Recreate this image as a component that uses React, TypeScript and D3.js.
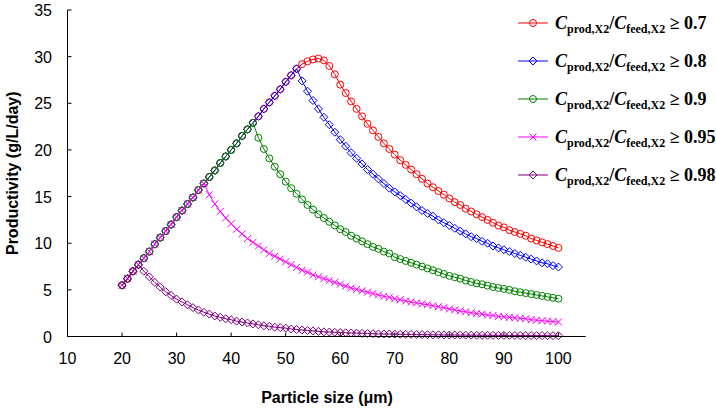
import React from "react";
import * as d3 from "d3";

// x values: particle size (µm), one point per µm
const particleSizes: number[] = d3.range(20, 101);

// shared rising branch, x = 20..52
const rise = [5.5, 6.2, 7.0, 7.7, 8.4, 9.1, 9.9, 10.6, 11.3, 12.0, 12.8, 13.5, 14.2, 14.9, 15.7, 16.4, 17.1, 17.8, 18.6, 19.3, 20.0, 20.7, 21.5, 22.2, 22.9, 23.6, 24.4, 25.1, 25.8, 26.5, 27.3, 28.0, 28.7];

// red, x = 53..100
const tail07 = [29.2, 29.5, 29.7, 29.8, 29.6, 29.0, 28.1, 27.0, 26.1, 25.2, 24.4, 23.6, 22.8, 22.1, 21.4, 20.7, 20.1, 19.5, 18.9, 18.4, 17.9, 17.4, 16.9, 16.4, 16.0, 15.6, 15.2, 14.8, 14.4, 14.1, 13.7, 13.4, 13.1, 12.8, 12.5, 12.2, 11.9, 11.7, 11.4, 11.2, 11.0, 10.8, 10.5, 10.3, 10.1, 9.9, 9.7, 9.5];
// blue, x = 53..100
const tail08 = [27.4, 26.3, 25.3, 24.4, 23.5, 22.7, 21.9, 21.1, 20.4, 19.7, 19.1, 18.5, 17.9, 17.4, 16.9, 16.4, 15.9, 15.5, 15.1, 14.7, 14.3, 13.9, 13.5, 13.2, 12.9, 12.5, 12.2, 11.9, 11.6, 11.3, 11.0, 10.7, 10.5, 10.2, 10.0, 9.7, 9.5, 9.3, 9.1, 8.9, 8.7, 8.5, 8.3, 8.1, 7.9, 7.8, 7.6, 7.45];
// green, x = 45..100
const tail09 = [21.3, 20.1, 19.1, 18.2, 17.4, 16.6, 15.9, 15.3, 14.7, 14.1, 13.6, 13.1, 12.7, 12.3, 11.9, 11.5, 11.2, 10.8, 10.5, 10.2, 9.9, 9.6, 9.4, 9.1, 8.9, 8.5, 8.3, 8.1, 7.9, 7.7, 7.5, 7.3, 7.1, 6.9, 6.7, 6.5, 6.35, 6.2, 6.0, 5.85, 5.7, 5.6, 5.45, 5.3, 5.2, 5.1, 5.0, 4.85, 4.75, 4.65, 4.55, 4.45, 4.35, 4.25, 4.15, 4.05];
// magenta, x = 36..100
const tail095 = [15.2, 14.2, 13.4, 12.7, 12.1, 11.5, 11.0, 10.5, 10.1, 9.7, 9.3, 8.9, 8.6, 8.3, 8.0, 7.7, 7.4, 7.1, 6.9, 6.6, 6.4, 6.2, 6.0, 5.8, 5.6, 5.4, 5.2, 5.05, 4.9, 4.75, 4.6, 4.45, 4.3, 4.2, 4.05, 3.95, 3.8, 3.7, 3.6, 3.5, 3.4, 3.3, 3.2, 3.1, 2.95, 2.85, 2.75, 2.65, 2.55, 2.45, 2.4, 2.3, 2.25, 2.15, 2.1, 2.05, 2.0, 1.95, 1.9, 1.8, 1.75, 1.7, 1.65, 1.6, 1.55];
// purple, x = 24..100
const tail098 = [7.0, 6.4, 5.8, 5.3, 4.8, 4.4, 4.0, 3.7, 3.4, 3.1, 2.85, 2.6, 2.4, 2.2, 2.05, 1.9, 1.8, 1.65, 1.55, 1.45, 1.35, 1.25, 1.15, 1.1, 1.0, 0.95, 0.9, 0.8, 0.75, 0.7, 0.65, 0.6, 0.55, 0.5, 0.48, 0.45, 0.42, 0.4, 0.38, 0.36, 0.34, 0.32, 0.3, 0.28, 0.27, 0.26, 0.25, 0.24, 0.23, 0.22, 0.21, 0.2, 0.19, 0.18, 0.18, 0.17, 0.16, 0.16, 0.15, 0.15, 0.14, 0.14, 0.13, 0.13, 0.12, 0.12, 0.12, 0.11, 0.11, 0.11, 0.1, 0.1, 0.1, 0.1, 0.09, 0.09, 0.09];

const values07 = rise.concat(tail07);
const values08 = rise.concat(tail08);
const values09 = rise.slice(0, 25).concat(tail09);
const values095 = rise.slice(0, 16).concat(tail095);
const values098 = rise.slice(0, 4).concat(tail098);

const seriesLabels = ["0.7", "0.8", "0.9", "0.95", "0.98"];
const seriesValues = [values07, values08, values09, values095, values098];
const seriesColors = ["#ff0000", "#0000ff", "#008000", "#ff00ff", "#800080"];
const seriesMarkers = ["circle", "diamond", "circle", "cross", "diamond"];

const xTicks = [10, 20, 30, 40, 50, 60, 70, 80, 90, 100];
const yTicks = [0, 5, 10, 15, 20, 25, 30, 35];

const W = 716;
const H = 410;
const plot = { left: 67.5, right: 585.7, top: 10, bottom: 336.5 };

function Marker({ type, x, y, color }: { type: string; x: number; y: number; color: string }) {
  if (type === "circle") {
    return <circle cx={x} cy={y} r={3.5} fill="none" stroke={color} strokeWidth={1} />;
  }
  if (type === "diamond") {
    const s = 4;
    return (
      <path
        d={`M${x},${y - s}L${x + s},${y}L${x},${y + s}L${x - s},${y}Z`}
        fill="none"
        stroke={color}
        strokeWidth={1}
      />
    );
  }
  const s = 3.5;
  return (
    <path
      d={`M${x - s},${y - s}L${x + s},${y + s}M${x - s},${y + s}L${x + s},${y - s}`}
      stroke={color}
      strokeWidth={1}
    />
  );
}

export default function App() {
  const x = d3.scaleLinear().domain([10, 105]).range([plot.left, plot.right]);
  const y = d3.scaleLinear().domain([0, 35]).range([plot.bottom, plot.top]);
  const line = d3
    .line<number>()
    .x((_, i) => x(particleSizes[i]))
    .y((d) => y(d));

  const sans = "'Liberation Sans', Arial, sans-serif";
  const serif = "'Liberation Serif', 'Times New Roman', serif";
  const legendY = [23, 61, 99, 137, 175];

  return (
    <svg width={W} height={H} style={{ position: "absolute", left: 0, top: 0, background: "#fff" }}>
      <rect x={0} y={0} width={W} height={H} fill="#fff" />
      {/* series */}
      {seriesValues.map((vals, si) => (
        <g key={si}>
          <path d={line(vals) || ""} fill="none" stroke={seriesColors[si]} strokeWidth={1} />
          {vals.map((v, i) => (
            <Marker key={i} type={seriesMarkers[si]} x={x(particleSizes[i])} y={y(v)} color={seriesColors[si]} />
          ))}
        </g>
      ))}
      {/* axes */}
      <line x1={plot.left} x2={plot.right} y1={plot.bottom} y2={plot.bottom} stroke="#000" strokeWidth={1} />
      <line x1={plot.left} x2={plot.left} y1={plot.top} y2={plot.bottom} stroke="#000" strokeWidth={1} />
      {xTicks.map((t) => (
        <g key={t}>
          <line x1={x(t)} x2={x(t)} y1={plot.bottom} y2={plot.bottom - 4} stroke="#000" strokeWidth={1} />
          <text x={x(t)} y={364} textAnchor="middle" fontFamily={sans} fontSize={16} fill="#000">
            {t}
          </text>
        </g>
      ))}
      {yTicks.map((t) => (
        <g key={t}>
          <line x1={plot.left} x2={plot.left + 4} y1={y(t)} y2={y(t)} stroke="#000" strokeWidth={1} />
          <text x={52} y={y(t) + 6} textAnchor="end" fontFamily={sans} fontSize={16} fill="#000">
            {t}
          </text>
        </g>
      ))}
      <text
        x={327}
        y={403}
        textAnchor="middle"
        fontFamily={sans}
        fontWeight="bold"
        fontSize={16}
        fill="#000"
      >
        Particle size (μm)
      </text>
      <text
        transform={`translate(18,${(plot.top + plot.bottom) / 2}) rotate(-90)`}
        textAnchor="middle"
        fontFamily={sans}
        fontWeight="bold"
        fontSize={16}
        fill="#000"
      >
        Productivity (g/L/day)
      </text>
      {/* legend */}
      {seriesLabels.map((lab, si) => {
        const ly = legendY[si];
        return (
          <g key={lab}>
            <line x1={518} x2={548} y1={ly} y2={ly} stroke={seriesColors[si]} strokeWidth={1} />
            <Marker type={seriesMarkers[si]} x={533} y={ly} color={seriesColors[si]} />
            <text x={555} y={ly + 6} fontFamily={serif} fontWeight="bold" fontSize={18} fill="#000">
              <tspan fontStyle="italic">C</tspan>
              <tspan fontSize={12} dy={4}>prod,X2</tspan>
              <tspan dy={-4}>/</tspan>
              <tspan fontStyle="italic">C</tspan>
              <tspan fontSize={12} dy={4}>feed,X2</tspan>
              <tspan dy={-4}>{` ≥ ${lab}`}</tspan>
            </text>
          </g>
        );
      })}
    </svg>
  );
}
